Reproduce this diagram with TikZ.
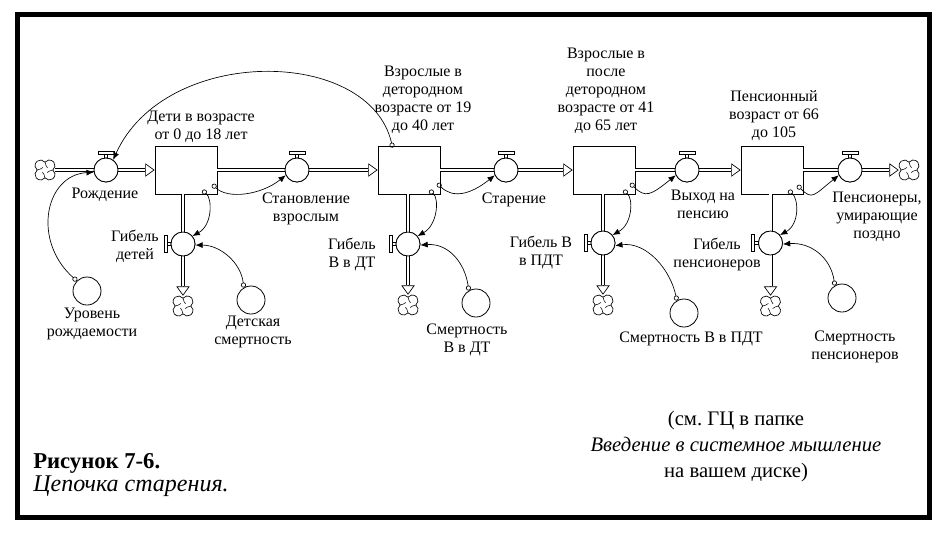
\documentclass[tikz,border=0pt]{standalone}
\usepackage{fontspec}
\setmainfont{Liberation Serif}
\usetikzlibrary{arrows.meta,calc}
\frenchspacing
\begin{document}
\begin{tikzpicture}[x=0.75pt,y=-0.75pt,
  lbl/.style={align=center, font=\fontsize{12}{13.5}\selectfont, inner sep=0pt},
  stock/.style={draw, fill=white, rectangle, minimum width=46.5pt, minimum height=36pt, line width=0.6pt, inner sep=0pt},
  valve/.style={draw, fill=white, circle, minimum size=18pt, inner sep=0pt, line width=0.6pt},
  aux/.style={draw, fill=white, circle, minimum size=21pt, inner sep=0pt, line width=0.6pt},
  sink/.style={circle, minimum size=15pt, inner sep=0pt},
  pipe/.style={draw=black, double=white, double distance=2pt, line width=0.5pt},
  flowtip/.style={arrows={-Triangle[length=7pt,width=10pt,fill=white]}, line width=0.5pt},
  link/.style={arrows={Circle[open,length=3.8pt,width=3.8pt]-Latex[length=5.5pt,width=4.5pt]}, line width=0.5pt},
  hhandle/.pic={
    \draw[line width=0.4pt] (-1.5,-12) -- (-1.5,-16) (1.5,-12) -- (1.5,-16);
    \draw[line width=0.45pt, fill=white] (-8,-16) rectangle (8,-19);
  },
  vhandle/.pic={
    \draw[line width=0.4pt] (-12,-1.5) -- (-16,-1.5) (-12,1.5) -- (-16,1.5);
    \draw[line width=0.45pt, fill=white] (-16,-8.5) rectangle (-19,8.5);
  },
  cloudpic/.pic={
    \begin{scope}[x=1pt,y=1pt]
      \draw[line width=0.5pt, fill=white] (5.9,0)
        arc[start angle=-51.8, end angle=141.8, radius=4.2]
        arc[start angle=38.2, end angle=231.8, radius=4.2]
        arc[start angle=128.2, end angle=321.8, radius=4.2]
        arc[start angle=218.2, end angle=411.8, radius=4.2] -- cycle;
      \draw[line width=0.4pt]
        (0,5.9) .. controls (-0.3,3.6) and (1.6,3.2) .. (1.9,1.6)
        (5.9,0) .. controls (3.6,0.3) and (3.2,-1.6) .. (1.6,-1.9)
        (0,-5.9) .. controls (0.3,-3.6) and (-1.6,-3.2) .. (-1.9,-1.6)
        (-5.9,0) .. controls (-3.6,-0.3) and (-3.2,1.6) .. (-1.6,1.9);
    \end{scope}
  }
]
\useasboundingbox (0,0) rectangle (948,533);
\draw[line width=3.75pt] (17.5,14.5) rectangle (929.5,517.5);

% stocks
\node[stock] (s1) at (186,170) {};
\node[stock] (s2) at (409,170) {};
\node[stock] (s3) at (604,170) {};
\node[stock] (s4) at (772,170) {};

% clouds (sources and sinks)
\node[sink] (c0) at (45,170) {};
\node[sink] (c5) at (909,170) {};
\node[sink] (cd1) at (183,306) {};
\node[sink] (cd2) at (408,305) {};
\node[sink] (cd3) at (603,305) {};
\node[sink] (cd4) at (770.5,306) {};
\foreach \c in {c0,c5,cd1,cd2,cd3,cd4} { \pic at (\c) {cloudpic}; }

% valves
\node[valve] (v1) at (106,170) {};
\node[valve] (v2) at (297,170) {};
\node[valve] (v3) at (506,170) {};
\node[valve] (v4) at (687,170) {};
\node[valve] (v5) at (850,170) {};
\node[valve] (d1) at (183,244) {};
\node[valve] (d2) at (408,244) {};
\node[valve] (d3) at (603,243) {};
\node[valve] (d4) at (770.5,243) {};

% pipes (horizontal)
\draw[pipe] (c0.east) -- (v1);
\draw[pipe, shorten >=7pt] (v1) -- (s1.west);
\draw[flowtip] ([xshift=-7pt]s1.west) -- (s1.west);
\draw[pipe] (s1.east) -- (v2);
\draw[pipe, shorten >=7pt] (v2) -- (s2.west);
\draw[flowtip] ([xshift=-7pt]s2.west) -- (s2.west);
\draw[pipe] (s2.east) -- (v3);
\draw[pipe, shorten >=7pt] (v3) -- (s3.west);
\draw[flowtip] ([xshift=-7pt]s3.west) -- (s3.west);
\draw[pipe] (s3.east) -- (v4);
\draw[pipe, shorten >=7pt] (v4) -- (s4.west);
\draw[flowtip] ([xshift=-7pt]s4.west) -- (s4.west);
\draw[pipe] (s4.east) -- (v5);
\draw[pipe, shorten >=7pt] (v5) -- (c5.west);
\draw[flowtip] ([xshift=-7pt]c5.west) -- (c5.west);

% pipes (vertical)
\draw[pipe] (s1.south -| d1) -- (d1);
\draw[pipe, shorten >=7pt] (d1) -- (cd1.north);
\draw[flowtip] ([yshift=7pt]cd1.north) -- (cd1.north);
\draw[pipe] (s2.south -| d2) -- (d2);
\draw[pipe, shorten >=7pt] (d2) -- (cd2.north);
\draw[flowtip] ([yshift=7pt]cd2.north) -- (cd2.north);
\draw[pipe] (s3.south -| d3) -- (d3);
\draw[pipe, shorten >=7pt] (d3) -- (cd3.north);
\draw[flowtip] ([yshift=7pt]cd3.north) -- (cd3.north);
\draw[pipe] (s4.south -| d4) -- (d4);
\draw[pipe, shorten >=7pt] (d4) -- (cd4.north);
\draw[flowtip] ([yshift=7pt]cd4.north) -- (cd4.north);

% valves drawn on top of the pipes, with their handles
\foreach \v in {v1,v2,v3,v4,v5} {
  \node[valve] at (\v) {};
  \pic at (\v) {hhandle};
}
\foreach \v in {d1,d2,d3,d4} {
  \node[valve] at (\v) {};
  \pic at (\v) {vhandle};
}

% auxiliaries
\node[aux] (a0) at (87,291) {};
\node[aux] (a1) at (251,300) {};
\node[aux] (a2) at (476,303) {};
\node[aux] (a3) at (684,313) {};
\node[aux] (a4) at (842,298) {};

% information links
\draw[link] (a0.135) .. controls +(-45,-40) and +(-49,3) .. (v1.190);
\draw[link] ($(s2.north west)+(15,2)$) .. controls +(-23,-101) and +(52,-115) .. (v1.55);
\draw[link] ($(s1.south east)+(-5,-10)$) .. controls +(15,15) and +(-25,20) .. (v2.205);
\draw[link] ($(s2.south east)+(-3,-11)$) .. controls +(15,15) and +(-25,20) .. (v3.205);
\draw[link] ($(s3.south east)+(-5,-11)$) .. controls +(15,15) and +(-25,20) .. (v4.205);
\draw[link] ($(s4.south east)+(-6,-9)$) .. controls +(15,15) and +(-25,20) .. (v5.205);
\draw[link] ($(s1.south east)+(-15,-4)$) .. controls +(10,8) and +(20,-11) .. (d1.40);
\draw[link] ($(s2.south east)+(-11,-4)$) .. controls +(10,8) and +(20,-11) .. (d2.40);
\draw[link] ($(s3.south east)+(-12,-4)$) .. controls +(10,8) and +(20,-11) .. (d3.40);
\draw[link] ($(s4.south east)+(-15,-4)$) .. controls +(10,8) and +(20,-11) .. (d4.40);
\draw[link] (a1.120) .. controls +(-3,-25) and +(25,0) .. (d1.-5);
\draw[link] (a2.120) .. controls +(-4,-28) and +(28,-2) .. (d2.-5);
\draw[link] (a3.120) .. controls +(-6,-30) and +(32,-4) .. (d3.-12);
\draw[link] (a4.120) .. controls +(-4,-28) and +(28,-2) .. (d4.-5);

% labels
\node[lbl] (ls1) at (201,127) {Дети в возрасте\\от 0 до 18 лет};
\node[lbl] (ls2) at (423,100) {Взрослые в\\детородном\\возрасте от 19\\до 40 лет};
\node[lbl] (ls3) at (606,91) {Взрослые в\\после\\детородном\\возрасте от 41\\до 65 лет};
\node[lbl] (ls4) at (774,116) {Пенсионный\\возраст от 66\\до 105};
\node[lbl] (lv1) at (105,195) {Рождение};
\node[lbl] (lv2) at (306,209) {Становление\\взрослым};
\node[lbl] (lv3) at (514,200) {Старение};
\node[lbl] (lv4) at (703,204) {Выход на\\пенсию};
\node[lbl] (lv5) at (877,217) {Пенсионеры,\\умирающие\\поздно};
\node[lbl] (ld1) at (135,246) {Гибель\\детей};
\node[lbl] (ld2) at (352,254) {Гибель\\В в ДТ};
\node[lbl] (ld3) at (541,252) {Гибель В\\в ПДТ};
\node[lbl] (ld4) at (717,254) {Гибель\\пенсионеров};
\node[lbl] (la0) at (92,324) {Уровень\\рождаемости};
\node[lbl] (la1) at (253,332) {Детская\\смертность};
\node[lbl] (la2) at (467,340) {Смертность\\В в ДТ};
\node[lbl] (la3) at (691,339) {Смертность В в ПДТ};
\node[lbl] (la4) at (855,347) {Смертность\\пенсионеров};

% captions
\node[anchor=base west, inner sep=0pt, font=\fontsize{17}{20}\selectfont\bfseries] (cap1) at (33,468) {Рисунок 7-6.};
\node[anchor=base west, inner sep=0pt, font=\fontsize{18}{21}\selectfont\itshape] (cap2) at (33,491) {Цепочка старения.};
\node[align=center, inner sep=0pt, font=\fontsize{15.5}{19.5}\selectfont] (note) at (736,447)
  {(см. ГЦ в папке\\\textit{Введение в системное мышление}\\на вашем диске)};
\end{tikzpicture}
\end{document}
